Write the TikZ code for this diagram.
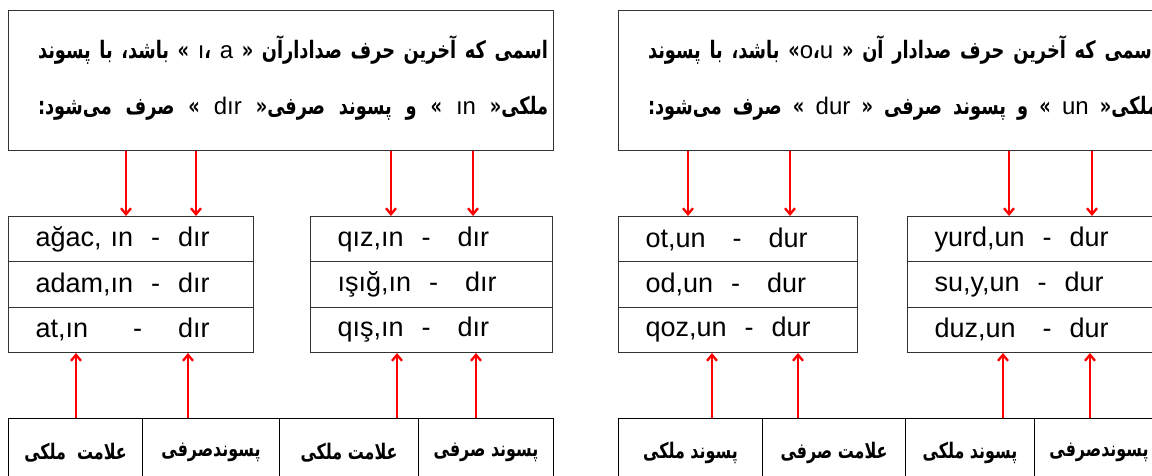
\documentclass[tikz,border=0pt]{standalone}
\usepackage{fontspec}
\setmainfont{Liberation Sans}
\newfontfamily\enfont{Liberation Sans}
\newfontfamily\fafont[Script=Arabic,FakeStretch=0.74]{DejaVu Sans}
\TeXXeTstate=1
\usetikzlibrary{arrows.meta}
\newcommand\ruletext[1]{\hbox to 510pt{\beginR #1\endR}}
\newcommand\lat[1]{{\enfont\mdseries #1}}

\begin{document}
\begin{tikzpicture}[x=1pt,y=-1pt,
    rulebox/.style={draw=black!80, line width=1pt, minimum width=545pt, minimum height=140pt, anchor=north west, inner sep=0pt},
    ruleline/.style={inner sep=0pt, font=\fafont\bfseries\fontsize{24}{30}\selectfont},
    wordbox/.style={draw=black!80, line width=1pt, text width=#1, minimum height=45.33pt, anchor=north west, inner xsep=27pt, inner ysep=0pt, align=left, font=\fontsize{27}{32}\selectfont},
    tagbox/.style={draw=black, line width=1pt, minimum width=#1, minimum height=68pt, anchor=north west, inner sep=0pt, font=\fafont\bfseries\fontsize{21.5}{26}\selectfont},
    redarrow/.style={draw=red, line width=2.3pt, -{Straight Barb[length=6pt,width=10pt]}}]
    \useasboundingbox (0,0) rectangle (1152,475);
    \clip (0,0) rectangle (1152,475);

    \node[rulebox] (rulea) at (8,10) {};
    \node[rulebox] (ruleb) at (618,10) {};
    \node[ruleline] (rulea1) at (293,50) {\ruletext{اسمی که آخرین حرف صدادارآن \beginL» \lat{ı}، \lat{a} «\endL{} باشد، با پسوند}};
    \node[ruleline] (rulea2) at (293,108) {\ruletext{ملکی\beginL» \lat{ın} «\endL{} و پسوند صرفی\beginL» \lat{dır} «\endL{} صرف می‌شود:}};
    \node[ruleline] (ruleb1) at (903,50) {\ruletext{اسمی که آخرین حرف صدادار آن \beginL»\lat{o}،\lat{u} «\endL{} باشد، با پسوند}};
    \node[ruleline] (ruleb2) at (903,108) {\ruletext{ملکی\beginL» \lat{un} «\endL{} و پسوند صرفی \beginL» \lat{dur} «\endL{} صرف می‌شود:}};

    \node[wordbox=191pt] (agac) at (8,216) {ağac, ın~~-~~dır};
    \node[wordbox=191pt] (adam) at (8,261.33) {adam,ın~~-~~dır};
    \node[wordbox=191pt] (at) at (8,306.67) {at,ın~~~~~-~~~~dır};
    \node[wordbox=188pt] (qiz) at (310,216) {qız,ın~~-~~~dır};
    \node[wordbox=188pt] (isig) at (310,261.33) {ışığ,ın~~-~~~dır};
    \node[wordbox=188pt] (qis) at (310,306.67) {qış,ın~~-~~~dır};
    \node[wordbox=185pt] (ot) at (618,216) {ot,un~~~-~~~dur};
    \node[wordbox=185pt] (od) at (618,261.33) {od,un~~-~~~dur};
    \node[wordbox=185pt] (qoz) at (618,306.67) {qoz,un~~-~~dur};
    \node[wordbox=194pt] (yurd) at (907,216) {yurd,un~~-~~dur};
    \node[wordbox=194pt] (suy) at (907,261.33) {su,y,un~~-~~dur};
    \node[wordbox=194pt] (duz) at (907,306.67) {duz,un~~~-~~dur};

    \node[tagbox=134pt] (taga) at (8,418) {\beginR علامت~ ملکی\endR};
    \node[tagbox=137pt] (tagb) at (142,418) {\beginR پسوندصرفی\endR};
    \node[tagbox=139pt] (tagc) at (279,418) {\beginR علامت ملکی\endR};
    \node[tagbox=135pt] (tagd) at (418,418) {\beginR پسوند صرفی\endR};
    \node[tagbox=144pt] (tage) at (618,418) {\beginR پسوند ملکی\endR};
    \node[tagbox=143pt] (tagf) at (762,418) {\beginR علامت صرفی\endR};
    \node[tagbox=129pt] (tagg) at (905,418) {\beginR پسوند ملکی\endR};
    \node[tagbox=129pt] (tagh) at (1034,418) {\beginR پسوندصرفی\endR};

    \draw[redarrow] (rulea.south -| 126,0) -- (agac.north -| 126,0);
    \draw[redarrow] (rulea.south -| 196,0) -- (agac.north -| 196,0);
    \draw[redarrow] (rulea.south -| 391,0) -- (qiz.north -| 391,0);
    \draw[redarrow] (rulea.south -| 473,0) -- (qiz.north -| 473,0);
    \draw[redarrow] (ruleb.south -| 688,0) -- (ot.north -| 688,0);
    \draw[redarrow] (ruleb.south -| 790,0) -- (ot.north -| 790,0);
    \draw[redarrow] (ruleb.south -| 1009,0) -- (yurd.north -| 1009,0);
    \draw[redarrow] (ruleb.south -| 1092,0) -- (yurd.north -| 1092,0);

    \draw[redarrow] (taga.north -| 76,0) -- (at.south -| 76,0);
    \draw[redarrow] (tagb.north -| 188,0) -- (at.south -| 188,0);
    \draw[redarrow] (tagc.north -| 397,0) -- (qis.south -| 397,0);
    \draw[redarrow] (tagd.north -| 476,0) -- (qis.south -| 476,0);
    \draw[redarrow] (tage.north -| 712,0) -- (qoz.south -| 712,0);
    \draw[redarrow] (tagf.north -| 798,0) -- (qoz.south -| 798,0);
    \draw[redarrow] (tagg.north -| 1003,0) -- (duz.south -| 1003,0);
    \draw[redarrow] (tagh.north -| 1090,0) -- (duz.south -| 1090,0);
\end{tikzpicture}
\end{document}
